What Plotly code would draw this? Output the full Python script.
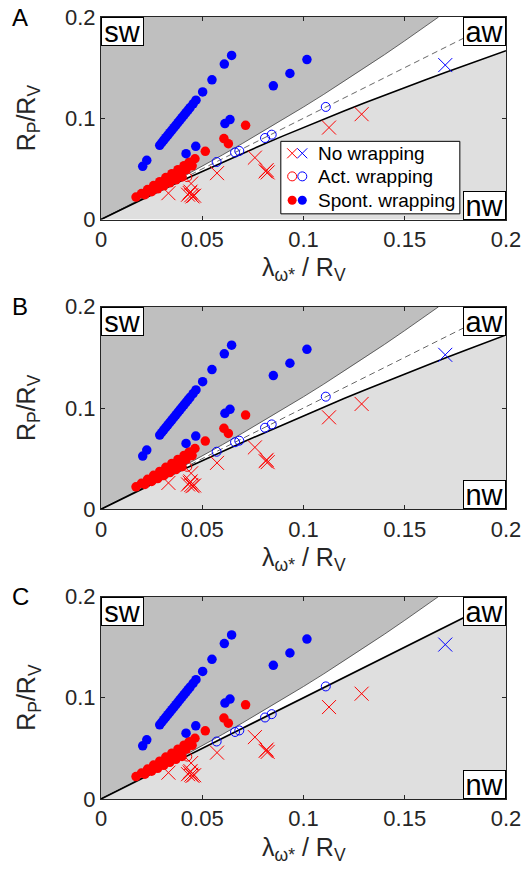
import plotly.graph_objects as go

# ---------------- data ----------------
blue_spont_x = [0.0645, 0.0609, 0.0548, 0.0502, 0.0469, 0.0455, 0.0440, 0.0430, 0.0420, 0.0410,
                0.0400, 0.0390, 0.0380, 0.0370, 0.0360, 0.0350, 0.0340, 0.0330, 0.0320, 0.0310,
                0.0300, 0.0290, 0.0226, 0.0206, 0.0420, 0.0468, 0.0612, 0.0637, 0.0851, 0.0933, 0.1017]
blue_spont_y = [0.1620, 0.1535, 0.1380, 0.1260, 0.1178, 0.1143, 0.1106, 0.1081, 0.1056, 0.1031,
                0.1007, 0.0982, 0.0957, 0.0932, 0.0907, 0.0882, 0.0857, 0.0833, 0.0808, 0.0783,
                0.0758, 0.0733, 0.0584, 0.0525, 0.0650, 0.0723, 0.0947, 0.0987, 0.1320, 0.1442, 0.1580]

red_spont_x = [0.0173, 0.0200, 0.0230, 0.0260, 0.0290, 0.0320, 0.0350, 0.0380, 0.0410, 0.0435, 0.0464,
               0.0217, 0.0250, 0.0280, 0.0310, 0.0340, 0.0370, 0.0400,
               0.0240, 0.0270, 0.0300, 0.0330, 0.0360, 0.0390, 0.0420, 0.0450,
               0.0515, 0.0607, 0.0629, 0.0714]
red_spont_y = [0.0221, 0.0256, 0.0296, 0.0335, 0.0374, 0.0414, 0.0453, 0.0492, 0.0532, 0.0565, 0.0600,
               0.0245, 0.0275, 0.0303, 0.0333, 0.0362, 0.0392, 0.0420,
               0.0290, 0.0318, 0.0350, 0.0385, 0.0418, 0.0455, 0.0492, 0.0530,
               0.0673, 0.0799, 0.0749, 0.0930]

blue_act_x = [0.0571, 0.0662, 0.0683, 0.0810, 0.0843, 0.1110]
blue_act_y = [0.0568, 0.0662, 0.0677, 0.0805, 0.0838, 0.1112]

red_act_x = [0.0426]
red_act_y = [0.0419]

red_no_x = [0.0333, 0.0445, 0.0430, 0.0438, 0.0446, 0.0452, 0.0460, 0.0442, 0.0573,
            0.0760, 0.0813, 0.0823, 0.0818, 0.1126, 0.1287]
red_no_y = [0.0260, 0.0355, 0.0245, 0.0262, 0.0240, 0.0228, 0.0235, 0.0275, 0.0458,
            0.0611, 0.0475, 0.0465, 0.0488, 0.0908, 0.1040]

blue_no_x = [0.1700]
blue_no_y = [0.1525]

# boundary curves
upper_x = [0, 0.01, 0.02, 0.03, 0.04, 0.05, 0.06, 0.07, 0.08, 0.09, 0.10, 0.11, 0.12,
           0.13, 0.14, 0.15, 0.16, 0.1667]
upper_y = [0, 0.0101, 0.0204, 0.0309, 0.0417, 0.0526, 0.0638, 0.0753, 0.0870, 0.0989,
           0.1111, 0.1236, 0.1364, 0.1494, 0.1628, 0.1765, 0.1905, 0.2000]

lowerA_x = [0, 0.01, 0.02, 0.03, 0.04, 0.05, 0.06, 0.07, 0.08, 0.09, 0.10, 0.11, 0.12,
            0.13, 0.14, 0.15, 0.16, 0.17, 0.18, 0.19, 0.20]
lowerA_y = [0, 0.0099, 0.0196, 0.0291, 0.0385, 0.0476, 0.0566, 0.0654, 0.0741, 0.0826,
            0.0909, 0.0991, 0.1071, 0.1150, 0.1228, 0.1304, 0.1379, 0.1453, 0.1525, 0.1597, 0.1667]

lowerB_x = lowerA_x
lowerB_y = [0, 0.0099, 0.0197, 0.0293, 0.0387, 0.0480, 0.0571, 0.0661, 0.0749, 0.0836,
            0.0925, 0.1010, 0.1094, 0.1176, 0.1257, 0.1337, 0.1416, 0.1494, 0.1571, 0.1647, 0.1721]

diag_x = [0, 0.2]
diag_y = [0, 0.2]

x_ticks = [0, 0.05, 0.1, 0.15, 0.2]
x_ticklabels = ["0", "0.05", "0.1", "0.15", "0.2"]
y_ticks = [0, 0.1, 0.2]
y_ticklabels = ["0", "0.1", "0.2"]

panel_letters = ["A", "B", "C"]
region_labels = ["sw", "aw", "nw"]
legend_labels = ["No wrapping", "Act. wrapping", "Spont. wrapping"]

# ---------------- styling ----------------
FONT = "Liberation Sans, Arial, sans-serif"
AX = "#262626"
DARK = "#bfbfbf"
LIGHT = "#dfdfdf"
RED = "#ff0000"
BLUE = "#0000ff"

W, H = 528, 879
ML, MR, MT, MB = 101, 22, 17, 80
ph = H - MT - MB
panel_h = 202.5
gap = (ph - 3 * panel_h) / 2
domains = []
for i in range(3):
    top = 1 - i * (panel_h + gap) / ph
    bot = top - panel_h / ph
    domains.append([max(bot, 0), min(top, 1)])

fig = go.Figure()

panels = [
    dict(lower=(lowerA_x, lowerA_y), dashed=True),
    dict(lower=(lowerB_x, lowerB_y), dashed=True),
    dict(lower=(diag_x, diag_y), dashed=False),
]

for i, p in enumerate(panels):
    xa = "x" if i == 0 else f"x{i+1}"
    ya = "y" if i == 0 else f"y{i+1}"
    lx, ly = p["lower"]
    fig.add_trace(go.Scatter(x=list(upper_x) + [0, 0], y=list(upper_y) + [0.2, 0],
                             fill="toself", fillcolor=DARK, mode="none",
                             xaxis=xa, yaxis=ya, showlegend=False, hoverinfo="skip"))
    fig.add_trace(go.Scatter(x=list(lx) + [0.2, 0], y=list(ly) + [0, 0],
                             fill="toself", fillcolor=LIGHT, mode="none",
                             xaxis=xa, yaxis=ya, showlegend=False, hoverinfo="skip"))
    fig.add_trace(go.Scatter(x=upper_x, y=upper_y, mode="lines",
                             line=dict(color="#404040", width=0.8),
                             xaxis=xa, yaxis=ya, showlegend=False, hoverinfo="skip"))
    if p["dashed"]:
        fig.add_trace(go.Scatter(x=diag_x, y=diag_y, mode="lines",
                                 line=dict(color="#404040", width=0.8, dash="6px,4px"),
                                 xaxis=xa, yaxis=ya, showlegend=False, hoverinfo="skip"))
    fig.add_trace(go.Scatter(x=lx, y=ly, mode="lines",
                             line=dict(color="black", width=1.6),
                             xaxis=xa, yaxis=ya, showlegend=False, hoverinfo="skip"))
    fig.add_trace(go.Scatter(x=red_no_x, y=red_no_y, mode="markers",
                             marker=dict(symbol="x-thin", size=14, line=dict(color=RED, width=1)),
                             xaxis=xa, yaxis=ya, showlegend=False))
    fig.add_trace(go.Scatter(x=blue_no_x, y=blue_no_y, mode="markers",
                             marker=dict(symbol="x-thin", size=14, line=dict(color=BLUE, width=1)),
                             xaxis=xa, yaxis=ya, showlegend=False))
    fig.add_trace(go.Scatter(x=red_act_x, y=red_act_y, mode="markers",
                             marker=dict(symbol="circle-open", size=9, color=RED, line=dict(color=RED, width=1)),
                             xaxis=xa, yaxis=ya, showlegend=False))
    fig.add_trace(go.Scatter(x=blue_act_x, y=blue_act_y, mode="markers",
                             marker=dict(symbol="circle-open", size=9, color=BLUE, line=dict(color=BLUE, width=1)),
                             xaxis=xa, yaxis=ya, showlegend=False))
    fig.add_trace(go.Scatter(x=red_spont_x, y=red_spont_y, mode="markers",
                             marker=dict(symbol="circle", size=9.5, color=RED, line=dict(width=0)),
                             xaxis=xa, yaxis=ya, showlegend=False))
    fig.add_trace(go.Scatter(x=blue_spont_x, y=blue_spont_y, mode="markers",
                             marker=dict(symbol="circle", size=9.5, color=BLUE, line=dict(width=0)),
                             xaxis=xa, yaxis=ya, showlegend=False))

axis_common = dict(range=[0, 0.2], showgrid=False, zeroline=False, showline=True, mirror="ticks",
                   linecolor=AX, linewidth=1, ticks="inside", ticklen=4, tickcolor=AX, tickwidth=1,
                   tickfont=dict(family=FONT, size=22, color=AX), fixedrange=True, automargin=False)

layout = dict(width=W, height=H, margin=dict(l=ML, r=MR, t=MT, b=MB, autoexpand=False),
              paper_bgcolor="white", plot_bgcolor="white", showlegend=False,
              font=dict(family=FONT, color=AX))
for i in range(3):
    xk = "xaxis" if i == 0 else f"xaxis{i+1}"
    yk = "yaxis" if i == 0 else f"yaxis{i+1}"
    ya = "y" if i == 0 else f"y{i+1}"
    xa = "x" if i == 0 else f"x{i+1}"
    layout[xk] = dict(axis_common, domain=[0, 1], anchor=ya, tickvals=x_ticks, ticktext=x_ticklabels)
    layout[yk] = dict(axis_common, domain=domains[i], anchor=xa, tickvals=y_ticks, ticktext=y_ticklabels)
fig.update_layout(**layout)

annotations = []
shapes = []
for i in range(3):
    xd = "x domain" if i == 0 else f"x{i+1} domain"
    yd = "y domain" if i == 0 else f"y{i+1} domain"
    annotations.append(dict(text=panel_letters[i], xref=xd, yref=yd, x=-0.2, y=1.0,
                            xanchor="center", yanchor="middle", showarrow=False,
                            font=dict(family=FONT, size=24, color="black")))
    annotations.append(dict(text="R<sub>P</sub>/R<sub>V</sub>", xref=xd, yref=yd, x=-0.18, y=0.5,
                            xanchor="center", yanchor="middle", textangle=-90, showarrow=False,
                            font=dict(family=FONT, size=25, color=AX)))
    annotations.append(dict(text="λ<sub>ω*</sub> / R<sub>V</sub>", xref=xd, yref=yd, x=0.5, y=-0.245,
                            xanchor="center", yanchor="middle", showarrow=False,
                            font=dict(family=FONT, size=25, color=AX)))
    for txt, xx, yy, xan, yan in [("sw", 0, 1, "left", "top"), ("aw", 1, 1, "right", "top"),
                                  ("nw", 1, 0, "right", "bottom")]:
        annotations.append(dict(text=txt, xref=xd, yref=yd, x=xx, y=yy, xanchor=xan, yanchor=yan,
                                showarrow=False, bgcolor="white", bordercolor="black", borderwidth=1,
                                borderpad=0, width=41, height=27,
                                font=dict(family=FONT, size=29, color="black")))

# legend (panel A only)
lx0, lx1, ly0, ly1 = 0.444, 0.886, 0.028, 0.386
shapes.append(dict(type="rect", xref="x domain", yref="y domain", x0=lx0, x1=lx1, y0=ly0, y1=ly1,
                   fillcolor="white", line=dict(color="black", width=1), layer="above"))
rows = [0.327, 0.213, 0.095]
sym_x = [0.472, 0.497]
text_x = 0.530
for r, lab in zip(rows, legend_labels):
    annotations.append(dict(text=lab, xref="x domain", yref="y domain", x=text_x, y=r,
                            xanchor="left", yanchor="middle", showarrow=False,
                            font=dict(family=FONT, size=19, color="black")))
colors = [RED, BLUE]
for sx, c in zip(sym_x, colors):
    for a, b in [((-5, -5), (5, 5)), ((-5, 5), (5, -5))]:
        shapes.append(dict(type="line", xref="x domain", yref="y domain", xsizemode="pixel",
                           ysizemode="pixel", xanchor=sx, yanchor=rows[0],
                           x0=a[0], y0=a[1], x1=b[0], y1=b[1], line=dict(color=c, width=1),
                           layer="above"))
    shapes.append(dict(type="circle", xref="x domain", yref="y domain", xsizemode="pixel",
                       ysizemode="pixel", xanchor=sx, yanchor=rows[1],
                       x0=-4.5, y0=-4.5, x1=4.5, y1=4.5, line=dict(color=c, width=1),
                       fillcolor="rgba(0,0,0,0)", layer="above"))
    shapes.append(dict(type="circle", xref="x domain", yref="y domain", xsizemode="pixel",
                       ysizemode="pixel", xanchor=sx, yanchor=rows[2],
                       x0=-4.5, y0=-4.5, x1=4.5, y1=4.5, line=dict(color=c, width=0),
                       fillcolor=c, layer="above"))

fig.update_layout(annotations=annotations, shapes=shapes)
fig.write_html("out.html")
